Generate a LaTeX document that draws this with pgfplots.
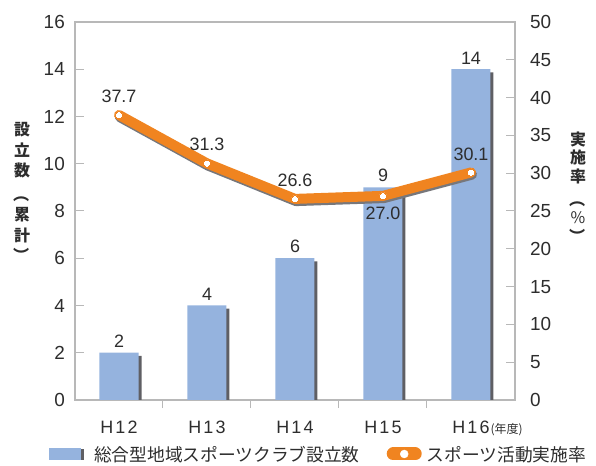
\documentclass[border=0pt]{standalone}
\usepackage{pgfplots}
\pgfplotsset{compat=1.18}
\usepackage{graphicx}
\usepackage{fontspec}
\setmainfont{Liberation Sans}
\newfontfamily\jp{Noto Sans CJK JP}
\newfontfamily\xlab[LetterSpace=12]{Liberation Sans}
\definecolor{barblue}{RGB}{149,179,222}
\definecolor{barshadow}{RGB}{95,95,100}
\definecolor{lineorange}{RGB}{240,132,32}
\definecolor{axgray}{RGB}{184,184,184}
\definecolor{txt}{RGB}{45,45,45}
\newcommand{\vop}{\rotatebox[origin=c]{-90}{（}}
\newcommand{\vcl}{\rotatebox[origin=c]{-90}{）}}
\begin{document}
\begin{tikzpicture}
\useasboundingbox (-75bp,-66bp) rectangle (521bp,400bp);
\pgfplotsset{
 base/.style={
  scale only axis, width=440bp, height=378bp, at={(0,0)}, anchor=south west,
  xmin=-0.5, xmax=4.5,
  axis line style={axgray, line width=1.8bp},
  tick style={axgray, line width=1bp},
  tick align=inside,
  major tick length=9bp,
  tick label style={font=\fontsize{19}{19}\selectfont, text=txt, inner sep=0pt},
  /pgf/number format/assume math mode=true,
 }
}
\begin{axis}[base,
  ymin=0, ymax=16, ytick={0,2,...,16},
  ytick pos=left,
  yticklabel style={xshift=-10bp},
  xtick={0,1,2,3,4},
  xticklabels={H12,H13,H14,H15,{H16\rlap{\hspace{1bp}\jp\fontsize{12}{12}\selectfont(年度)}}},
  xtick pos=bottom,
  xticklabel style={yshift=-11.5bp, font=\xlab\fontsize{18}{18}\selectfont},
  major x tick style={draw=none},
  minor xtick={0.5,1.5,2.5,3.5},
  minor tick length=8bp,
  minor x tick style={axgray, line width=1bp},
  ybar, bar width=39bp,
]
\addplot[fill=barshadow, draw=none, bar shift=3bp] coordinates {(0,1.87) (1,3.87) (2,5.87) (3,8.87) (4,13.87)};
\addplot[fill=barblue, draw=none, bar shift=0bp, nodes near coords,
  every node near coord/.append style={font=\fontsize{18}{18}\selectfont, text=txt, inner sep=0pt, anchor=south, yshift=5bp}]
  coordinates {(0,2) (1,4) (2,6) (3,9) (4,14)};
\end{axis}
\begin{axis}[base,
  ymin=0, ymax=50, ytick={0,5,...,50},
  hide x axis, axis y line*=right,
  yticklabel style={xshift=15bp},
  legend style={at={(0.551,-0.1455)}, anchor=center, draw=none, fill=none,
    font=\jp\fontsize{17.8}{17.8}\selectfont, text=txt, legend columns=2,
    nodes={inner sep=0pt},
    /tikz/every even column/.style={column sep=27bp}},
  legend cell align=left,
]
\addlegendimage{legend image code/.code={\path[draw=none,fill=none] (0bp,0bp) rectangle (45bp,1bp); \fill[barshadow] (3bp,-4.5bp) rectangle (34bp,5.5bp); \fill[barblue] (0bp,-4.5bp) rectangle (31bp,7bp);}}
\addlegendentry{総合型地域スポーツクラブ設立数}
\addlegendimage{legend image code/.code={\path[draw=none,fill=none] (0bp,0bp) rectangle (40bp,1bp); \draw[lineorange, line width=13bp, line cap=round] (6.5bp,1bp) -- (28.5bp,1bp); \fill[white] (17.5bp,1bp) circle (4bp);}}
\addlegendentry{スポーツ活動実施率}
\addplot[forget plot, draw=barshadow!85, line width=10bp, line cap=round, line join=round, xshift=1bp, yshift=-2.2bp]
  coordinates {(0,37.7) (1,31.3) (2,26.6) (3,27.0) (4,30.1)};
\addplot[forget plot, draw=lineorange, line width=10bp, line cap=round, line join=round,
  mark=*, mark size=3.7bp, mark options={fill=white, draw=none, line width=0pt}]
  coordinates {(0,37.7) (1,31.3) (2,26.6) (3,27.0) (4,30.1)};
\addplot[forget plot, draw=none, mark=none, nodes near coords, point meta=explicit symbolic,
  every node near coord/.append style={font=\fontsize{18}{18}\selectfont, text=txt, inner sep=0pt, anchor=south, yshift=12bp}]
  coordinates {(0,37.7)[37.7] (1,31.3)[31.3] (2,26.6)[26.6] (4,30.1)[30.1]};
\addplot[forget plot, draw=none, mark=none, nodes near coords, point meta=explicit symbolic,
  every node near coord/.append style={font=\fontsize{18}{18}\selectfont, text=txt, inner sep=0pt, anchor=north, yshift=-11bp}]
  coordinates {(3,27.0)[27.0]};
\end{axis}
\node[font=\jp\bfseries\fontsize{16}{18.3}\selectfont, text=txt, align=center, inner sep=0pt] at (-53bp,207bp)
  {設\\[2bp]立\\[2bp]数\\[6bp]\vop\\[2bp]累\\[2bp]計\\[2bp]\vcl};
\node[font=\jp\bfseries\fontsize{16}{17.5}\selectfont, text=txt, align=center, inner sep=0pt] at (503bp,212bp)
  {実\\[1bp]施\\[1bp]率\\[6bp]\vop\\[1bp]{\mdseries\%}\\[1bp]\vcl};
\end{tikzpicture}
\end{document}
